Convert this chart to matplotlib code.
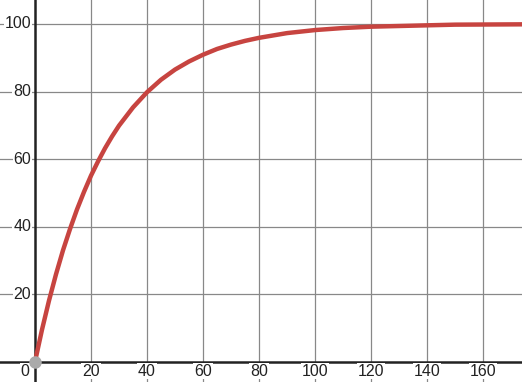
import numpy as np
import matplotlib
matplotlib.use('Agg')
import matplotlib.pyplot as plt

# values
x_vals = [0, 2.5, 5, 7.5, 10, 12.5, 15, 17.5, 20, 22.5, 25, 27.5, 30, 35, 40, 45,
          50, 55, 60, 65, 70, 75, 80, 90, 100, 110, 120, 135, 150, 175]
y_vals = [0, 9.5, 18.1, 25.9, 33.0, 39.3, 45.1, 50.3, 55.1, 59.3, 63.2, 66.7, 69.9,
          75.3, 79.8, 83.5, 86.5, 88.9, 90.9, 92.6, 93.9, 95.0, 95.9, 97.3, 98.2,
          98.8, 99.2, 99.5, 99.8, 99.9]
x_ticks = [20, 40, 60, 80, 100, 120, 140, 160]
y_ticks = [20, 40, 60, 80, 100]

plt.rcParams['font.family'] = ['Liberation Sans', 'DejaVu Sans']

fig = plt.figure(figsize=(5.22, 3.82), dpi=100)
ax = fig.add_axes([0, 0, 1, 1])
ax.set_xlim(-12.5, 173.9)
ax.set_ylim(-6.0, 107.1)
ax.axis('off')

for xt in x_ticks:
    ax.axvline(xt, color='#888888', linewidth=0.9, zorder=1)
for yt in y_ticks:
    ax.axhline(yt, color='#888888', linewidth=0.9, zorder=1)
ax.axvline(0, color='#222222', linewidth=1.8, zorder=2)
ax.axhline(0, color='#222222', linewidth=1.8, zorder=2)

box = dict(boxstyle='square,pad=0.05', facecolor='white', edgecolor='none')
for xt in x_ticks:
    ax.text(xt, -2.8, str(xt), ha='center', va='center', fontsize=11.5,
            color='#222222', bbox=box, zorder=3)
for yt in y_ticks:
    ax.text(-1.4, yt, str(yt), ha='right', va='center', fontsize=11.5,
            color='#222222', bbox=box, zorder=3)
ax.text(-3.6, -2.8, '0', ha='center', va='center', fontsize=11.5,
        color='#222222', bbox=box, zorder=3)

ax.plot(x_vals, y_vals, color='#c74440', linewidth=3.2, solid_capstyle='round',
        zorder=4)
ax.plot([x_vals[0]], [y_vals[0]], 'o', color='#aaaaaa', markersize=8, zorder=5)

fig.savefig('out.png', dpi=100)
